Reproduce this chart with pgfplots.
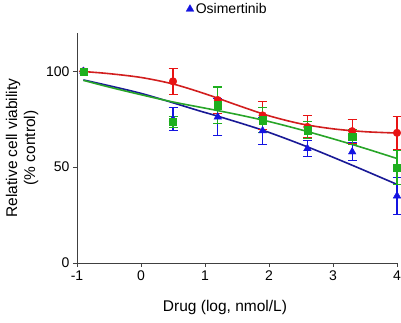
\documentclass[border=0pt]{standalone}
\usepackage{pgfplots}
\pgfplotsset{compat=1.18}
\usepackage{fontspec}
\setmainfont{Liberation Sans}
\definecolor{cred}{RGB}{232,20,20}
\definecolor{cgreen}{RGB}{30,175,30}
\definecolor{cblue}{RGB}{20,20,225}
\definecolor{lred}{RGB}{210,30,30}
\definecolor{lgreen}{RGB}{40,165,40}
\definecolor{lblue}{RGB}{25,25,150}
\begin{document}
\begin{tikzpicture}
\useasboundingbox (-77pt,-60pt) rectangle (324pt,263pt);
\begin{axis}[
  scale only axis, width=320pt, height=230pt,
  xmin=-1, xmax=4, ymin=0, ymax=120,
  axis x line=bottom, axis y line=left,
  axis line style={-, line width=0.9pt, color=black!75},
  tick align=outside, major tick length=4pt,
  tick style={line width=0.9pt, color=black!75},
  xtick={-1,0,1,2,3,4}, ytick={0,50,100},
  /pgf/number format/assume math mode=true,
  ticklabel style={font=\fontsize{14}{16}\selectfont},
  xlabel={Drug (log, nmol/L)},
  ylabel={Relative cell viability\\(\% control)},
  xlabel style={font=\fontsize{15.5}{18}\selectfont, at={(axis description cs:0.4625,0)}, anchor=center, yshift=-44pt},
  ylabel style={font=\fontsize{15.5}{18}\selectfont, align=center, at={(axis description cs:0,0.5)}, anchor=center, yshift=55pt},
  legend style={at={(axis description cs:0.47,1.104)}, anchor=center, draw=none, fill=none, font=\fontsize{14}{16}\selectfont},
  legend cell align=left,
  clip=false,
]
% fitted curves
\addplot[lred, line width=1.6pt, smooth, forget plot] coordinates {
(-0.9,99.9) (-0.5,98.8) (0,96.8) (0.5,93.4) (1,88.3) (1.5,82.4) (2,76.8) (2.5,72.6) (3,70.0) (3.5,68.5) (4,67.8)};
\addplot[lblue, line width=1.6pt, smooth, forget plot] coordinates {
(-0.9,95.5) (0,88.5) (0.92,79.3) (1.2,76.6) (1.9,69.3) (2.6,60.6) (3.3,51) (4,41)};
\addplot[lgreen, line width=1.6pt, smooth, forget plot] coordinates {
(-0.9,95.3) (-0.5,91.8) (0,87.8) (0.5,84) (1,80.8) (1.5,77.5) (2,73.8) (2.5,69.5) (3,64.8) (3.5,59.8) (4,54.5)};
% data with error bars
\addplot[cred, only marks, mark=*, mark size=3.8pt, forget plot,
  error bars/.cd, y dir=both, y explicit, error bar style={line width=1.1pt}, error mark options={rotate=90, mark size=4.5pt, line width=1.1pt}]
coordinates {
(-0.9,100) +- (0,0)
(0.5,94.8) +- (0,6.8)
(1.2,85) +- (0,7)
(1.9,77) +- (0,7.2)
(2.6,71) +- (0,5.8)
(3.3,68.8) +- (0,6.2)
(4,67.9) +- (0,8.5)};
\addplot[cblue, only marks, mark=triangle*, mark size=4.4pt,
  error bars/.cd, y dir=both, y explicit, error bar style={line width=1.1pt}, error mark options={rotate=90, mark size=4.5pt, line width=1.1pt}]
coordinates {
(-0.9,100) +- (0,0)
(0.5,75) +- (0,6)
(1.2,76.2) +- (0,9.8)
(1.9,69) +- (0,7)
(2.6,59.7) +- (0,4.3)
(3.3,58) +- (0,4.7)
(4,35) +- (0,9.7)};
\addlegendentry{Osimertinib}
\addplot[cgreen, only marks, mark=square*, mark size=3.6pt, forget plot,
  error bars/.cd, y dir=both, y explicit, error bar style={line width=1.1pt}, error mark options={rotate=90, mark size=4.5pt, line width=1.1pt}]
coordinates {
(-0.9,100) +- (0,0)
(0.5,73.6) +- (0,3)
(1.2,82.3) +- (0,9.5)
(1.9,74.5) +- (0,6.5)
(2.6,69.3) +- (0,4.3)
(3.3,65.8) +- (0,4)
(4,49.8) +- (0,8.7)};
\end{axis}
\end{tikzpicture}
\end{document}
